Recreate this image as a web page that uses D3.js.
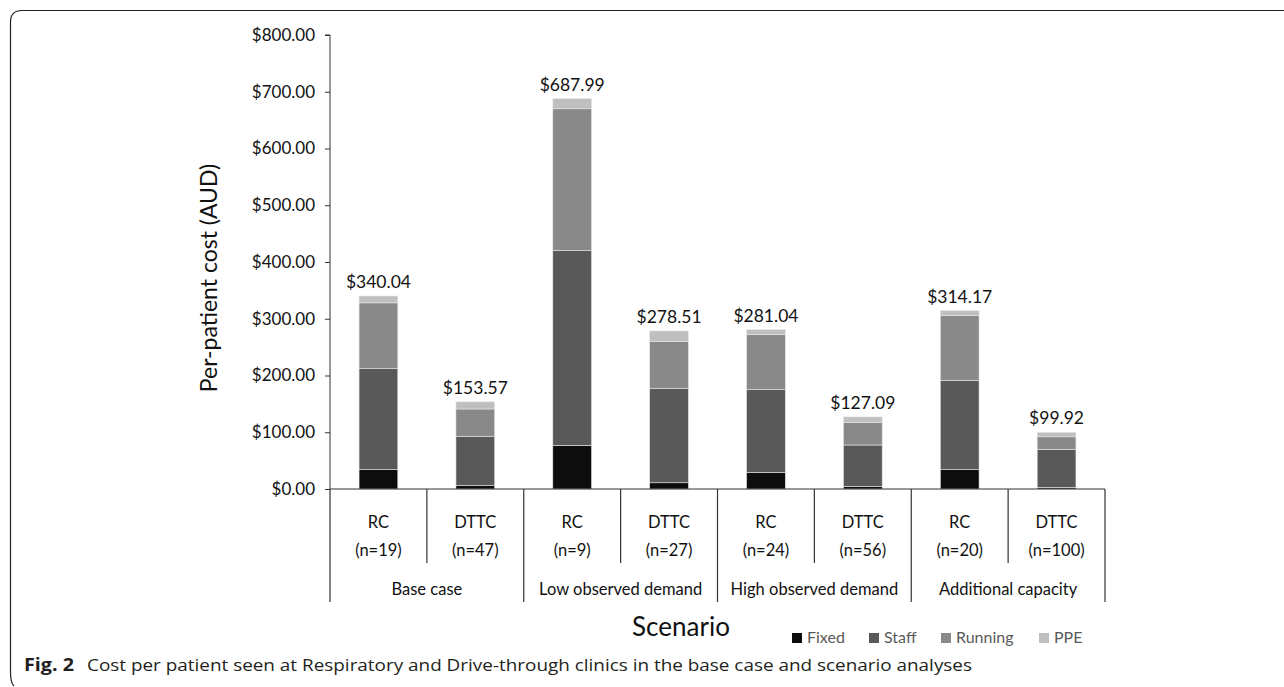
<!DOCTYPE html>
<html>
<head>
<meta charset="utf-8">
<script src="https://cdn.jsdelivr.net/npm/d3@7"></script>
<style>
  body { margin: 0; background: #fff; }
  svg { display: block; }
</style>
</head>
<body>
<svg id="chart"></svg>
<script>
// categories
const clinics = ["RC", "DTTC", "RC", "DTTC", "RC", "DTTC", "RC", "DTTC"];
const sampleSizes = ["(n=19)", "(n=47)", "(n=9)", "(n=27)", "(n=24)", "(n=56)", "(n=20)", "(n=100)"];
const scenarios = ["Base case", "Low observed demand", "High observed demand", "Additional capacity"];

// per-patient cost components (AUD)
const fixed   = [34, 6, 77, 11, 29, 4.5, 34, 3];
const staff   = [178, 87, 343, 166, 146, 73, 157, 67];
const running = [116, 48, 250, 83, 97, 40, 115, 22];
const ppe     = [12.04, 12.57, 17.99, 18.51, 9.04, 9.59, 8.17, 7.92];
const totalLabels = ["$340.04", "$153.57", "$687.99", "$278.51", "$281.04", "$127.09", "$314.17", "$99.92"];

const seriesNames = ["Fixed", "Staff", "Running", "PPE"];
const yTicks = [0, 100, 200, 300, 400, 500, 600, 700, 800];

const width = 1284, height = 687;
const font = "Lato, 'Open Sans', sans-serif";
const colors = d3.scaleOrdinal().domain(seriesNames).range(["#0d0d0d", "#595959", "#898989", "#bfbfbf"]);

const rows = clinics.map((c, i) => ({
  i, Fixed: fixed[i], Staff: staff[i], Running: running[i], PPE: ppe[i]
}));
const stacked = d3.stack().keys(seriesNames)(rows);

const x = d3.scaleBand()
    .domain(d3.range(clinics.length))
    .range([330, 1105])
    .paddingInner(0.6)
    .paddingOuter(0.3);
const y = d3.scaleLinear().domain([0, 800]).range([489, 35]);

const svg = d3.select("#chart")
    .attr("width", width)
    .attr("height", height)
    .attr("viewBox", [0, 0, width, height])
    .style("font-family", font);

// frame (top and left edge, rounded corner)
svg.append("path")
    .attr("fill", "none")
    .attr("stroke", "#222")
    .attr("stroke-width", 1.2)
    .attr("d", "M1284,10.5 H22 Q10.5,10.5 10.5,22 V672 Q10.5,683 14,686");

// y axis
const yAxis = d3.axisLeft(y)
    .tickValues(yTicks)
    .tickSize(5)
    .tickPadding(10)
    .tickFormat(d => "$" + d3.format(".2f")(d));

svg.append("g")
    .attr("transform", "translate(330,0)")
    .call(yAxis)
    .call(g => g.select(".domain").attr("stroke", "#333").attr("d", `M-5,${y(800)}H0V${y(0)}`))
    .call(g => g.selectAll(".tick line").attr("stroke", "#333"))
    .call(g => g.selectAll(".tick text")
        .attr("fill", "#111")
        .style("font-size", "17px")
        .style("font-family", font));

svg.append("text")
    .attr("transform", "translate(217,278) rotate(-90)")
    .attr("text-anchor", "middle")
    .attr("fill", "#111")
    .style("font-size", "23px")
    .text("Per-patient cost (AUD)");

// stacked bars
svg.append("g")
  .selectAll("g")
  .data(stacked)
  .join("g")
    .attr("fill", d => colors(d.key))
  .selectAll("rect")
  .data(d => d)
  .join("rect")
    .attr("x", d => x(d.data.i))
    .attr("width", x.bandwidth())
    .attr("y", d => y(d[1]))
    .attr("height", d => y(d[0]) - y(d[1]))
    .attr("stroke", "#e6e6e6")
    .attr("stroke-width", 0.6);

// total labels
svg.append("g")
  .selectAll("text")
  .data(rows)
  .join("text")
    .attr("x", d => x(d.i) + x.bandwidth() / 2)
    .attr("y", d => y(d3.sum(seriesNames, k => d[k])) - 8)
    .attr("text-anchor", "middle")
    .attr("fill", "#111")
    .style("font-size", "17.5px")
    .text((d, i) => totalLabels[i]);

// category axis (multi-level)
const step = x.step();
const x0 = x.range()[0], x1 = x.range()[1];
const axisG = svg.append("g").attr("stroke", "#333").attr("stroke-width", 1.2);
axisG.append("line").attr("x1", x0).attr("x2", x1).attr("y1", y(0)).attr("y2", y(0));
d3.range(clinics.length + 1).forEach(k => {
  const xx = x0 + k * step;
  axisG.append("line")
      .attr("x1", xx).attr("x2", xx)
      .attr("y1", y(0))
      .attr("y2", k % 2 === 0 ? 602 : 563);
});

svg.append("g")
  .selectAll("text")
  .data(clinics)
  .join("text")
    .attr("x", (d, i) => x(i) + x.bandwidth() / 2)
    .attr("y", 528)
    .attr("text-anchor", "middle")
    .attr("fill", "#111")
    .style("font-size", "16.5px")
    .text(d => d);

svg.append("g")
  .selectAll("text")
  .data(sampleSizes)
  .join("text")
    .attr("x", (d, i) => x(i) + x.bandwidth() / 2)
    .attr("y", 556)
    .attr("text-anchor", "middle")
    .attr("fill", "#111")
    .style("font-size", "16.5px")
    .text(d => d);

svg.append("g")
  .selectAll("text")
  .data(scenarios)
  .join("text")
    .attr("x", (d, i) => x0 + (2 * i + 1) * step)
    .attr("y", 595)
    .attr("text-anchor", "middle")
    .attr("fill", "#111")
    .style("font-size", "16.5px")
    .text(d => d);

svg.append("text")
    .attr("x", 681)
    .attr("y", 636)
    .attr("text-anchor", "middle")
    .attr("fill", "#111")
    .style("font-size", "26px")
    .text("Scenario");

// legend
const legendX = [792, 869, 941, 1039];
const legend = svg.append("g")
  .selectAll("g")
  .data(seriesNames)
  .join("g")
    .attr("transform", (d, i) => `translate(${legendX[i]},643)`);
legend.append("rect")
    .attr("x", 0).attr("y", -10)
    .attr("width", 10).attr("height", 10)
    .attr("fill", d => colors(d));
legend.append("text")
    .attr("x", 15)
    .attr("y", 0)
    .attr("fill", "#595959")
    .style("font-size", "16px")
    .text(d => d);

// caption
svg.append("text")
    .attr("x", 24)
    .attr("y", 671)
    .attr("fill", "#231f20")
    .attr("textLength", 50)
    .attr("lengthAdjust", "spacingAndGlyphs")
    .style("font-family", "'Open Sans', Lato, sans-serif")
    .style("font-size", "17px")
    .style("font-weight", "bold")
    .text("Fig. 2");
svg.append("text")
    .attr("x", 87)
    .attr("y", 671)
    .attr("fill", "#231f20")
    .attr("textLength", 885)
    .attr("lengthAdjust", "spacingAndGlyphs")
    .style("font-family", "'Open Sans', Lato, sans-serif")
    .style("font-size", "16.5px")
    .text("Cost per patient seen at Respiratory and Drive-through clinics in the base case and scenario analyses");
</script>
</body>
</html>
